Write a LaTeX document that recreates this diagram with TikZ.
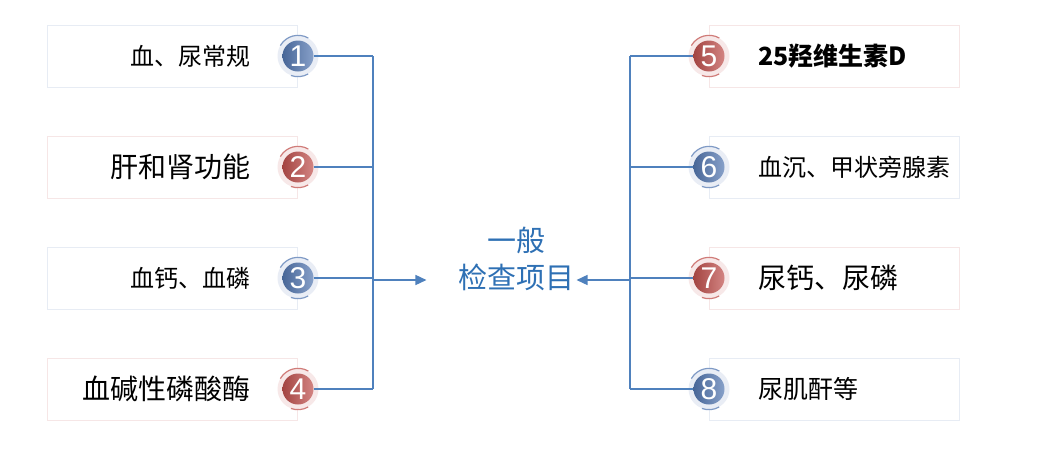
\documentclass[tikz,border=0pt]{standalone}
\usepackage{fontspec}
\setmainfont{Liberation Sans}
\newfontfamily\cjk{Noto Sans CJK SC}
\usetikzlibrary{arrows.meta, positioning, calc}
\definecolor{Steel}{RGB}{79,129,189}
\definecolor{Ink}{RGB}{46,112,180}
\definecolor{NumBlue}{RGB}{84,120,178}
\definecolor{NumRed}{RGB}{192,80,77}

\tikzset{
    itembox/.style={draw=#1!14, fill=white, line width=1pt, minimum width=250pt, minimum height=62pt, inner sep=0pt},
    halo/.style={circle, fill=#1!13, minimum size=41pt, inner sep=0pt},
    numdisk/.style={circle, left color=#1!85!black, right color=#1!70!white, text=white,
        minimum size=31pt, inner sep=0pt, font=\fontsize{30}{30}\selectfont},
    link/.style={draw=Steel, line width=1.5pt}
}

\begin{document}
\begin{tikzpicture}[x=1pt, y=-1pt]
\useasboundingbox (0,0) rectangle (1037,453);
% Left items
\foreach \i/\y/\col/\sz/\txt in {1/56/NumBlue/24/{血、尿常规}, 2/167/NumRed/28/{肝和肾功能}, 3/278/NumBlue/24/{血钙、血磷}, 4/389/NumRed/28/{血碱性磷酸酶}} {
    \node[itembox=\col] (lbox\i) at (172,\y) {};
    \node[anchor=east, font=\cjk\fontsize{\sz}{\sz}\selectfont] (ltxt\i) at (254,\y) {\txt};
    \node[halo=\col] (lhalo\i) at (298,\y) {};
    \draw[\col!75, line width=1.2pt] (lhalo\i.60) arc[start angle=60, end angle=150, radius=20.5pt];
    \draw[\col!75, line width=1.2pt] (lhalo\i.-110) arc[start angle=-110, end angle=-60, radius=20.5pt];
    \node[numdisk=\col] (lnum\i) at (298,\y) {\i};
    \coordinate (ljoin\i) at (373,\y);
    \draw[link] (lnum\i) -- (ljoin\i);
}
% Right items
\foreach \i/\y/\col/\sz/\txt in {5/56/NumRed/25/{\bfseries 25羟维生素D}, 6/167/NumBlue/24/{血沉、甲状旁腺素}, 7/278/NumRed/28/{尿钙、尿磷}, 8/389/NumBlue/25/{尿肌酐等}} {
    \node[itembox=\col] (rbox\i) at (834,\y) {};
    \node[anchor=west, font=\cjk\fontsize{\sz}{\sz}\selectfont] (rtxt\i) at (755,\y) {\txt};
    \node[halo=\col] (rhalo\i) at (709,\y) {};
    \draw[\col!75, line width=1.2pt] (rhalo\i.60) arc[start angle=60, end angle=150, radius=20.5pt];
    \draw[\col!75, line width=1.2pt] (rhalo\i.-110) arc[start angle=-110, end angle=-60, radius=20.5pt];
    \node[numdisk=\col] (rnum\i) at (709,\y) {\i};
    \coordinate (rjoin\i) at (630,\y);
    \draw[link] (rnum\i) -- (rjoin\i);
}
% Centre
\node[text=Ink, font=\cjk\fontsize{29}{29}\selectfont] (general) at (516,240) {一般};
\node[text=Ink, font=\cjk\fontsize{29}{29}\selectfont] (exam) at (516,277) {检查项目};
\coordinate (lmid) at (373,280);
\coordinate (rmid) at (630,280);
\draw[link] (ljoin1) -- (ljoin4);
\draw[link] (rjoin5) -- (rjoin8);
\draw[link, -{Triangle[length=11pt, width=10pt]}, shorten >=28pt] (lmid) -- (lmid -| exam.west);
\draw[link, -{Triangle[length=11pt, width=10pt]}, shorten >=-1pt] (rmid) -- (rmid -| exam.east);
\end{tikzpicture}
\end{document}
